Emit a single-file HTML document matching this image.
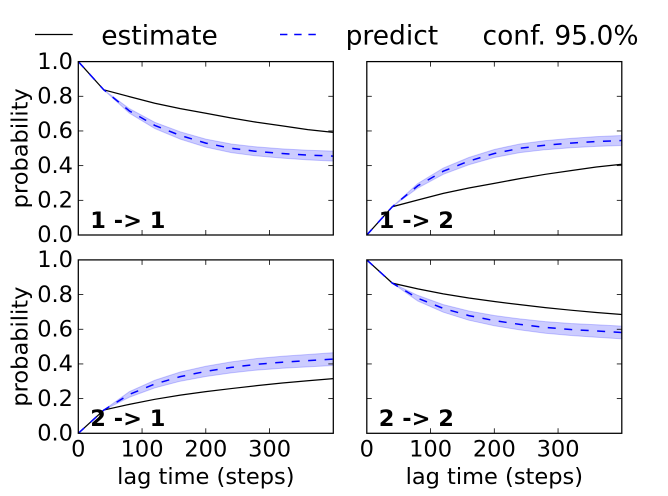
<!DOCTYPE html>
<html><head><meta charset="utf-8"><style>
html,body{margin:0;padding:0;background:#fff;}
svg{display:block;}
text{font-family:"DejaVu Sans","Liberation Sans",sans-serif;fill:#000;}
.t{font-size:22.5px;}
.lg{font-size:26.5px;}
.pl{font-size:22.5px;font-weight:bold;}
.band{fill:rgba(0,0,255,0.2);stroke:rgba(0,0,255,0.2);stroke-width:1;}
.est{fill:none;stroke:#000;stroke-width:1.25;}
.pred{fill:none;stroke:#0000ff;stroke-width:1.5;stroke-dasharray:8 8.5;}
.sp{fill:none;stroke:#000;stroke-width:1.25;}
.tk{stroke:#000;stroke-width:0.8;}
</style></head><body>
<svg width="668" height="496" viewBox="0 0 668 496" xmlns="http://www.w3.org/2000/svg">
<rect x="0" y="0" width="668" height="496" fill="#fff"/>

<!-- Legend -->
<line x1="35" y1="34.5" x2="72.7" y2="34.5" stroke="#000" stroke-width="1.25"/>
<text class="lg" x="101.2" y="44.3">estimate</text>
<line x1="280" y1="34.5" x2="317" y2="34.5" stroke="#0000ff" stroke-width="1.5" stroke-dasharray="7.4 6.8"/>
<text class="lg" x="345.6" y="44.3">predict</text>
<text class="lg" x="482.5" y="44.3">conf. 95.0%</text>

<!-- Top-left 1->1 -->
<polygon class="band" points="78.3,61.6 103.8,89.86 129.3,108.60 154.8,122.29 180.3,131.83 205.8,139.11 231.3,143.96 256.8,146.91 282.3,148.82 307.8,150.20 333.3,151.07 333.3,161.13 307.8,159.92 282.3,158.18 256.8,155.93 231.3,152.64 205.8,147.09 180.3,139.11 154.8,128.53 129.3,113.10 103.8,89.86"/>
<polyline class="est" points="78.3,61.6 103.8,89.86 129.3,96.63 154.8,103.22 180.3,108.59 205.8,113.27 231.3,117.95 256.8,122.29 282.3,125.93 307.8,129.57 333.3,132.35"/>
<polyline class="pred" points="78.3,61.6 103.8,89.86 129.3,110.85 154.8,125.41 180.3,135.47 205.8,143.10 231.3,148.30 256.8,151.42 282.3,153.50 307.8,155.06 333.3,156.10"/>

<!-- Top-right 1->2 -->
<polygon class="band" points="366.8,235 392.3,206.74 417.8,183.50 443.3,168.07 468.8,157.49 494.3,149.51 519.8,143.96 545.3,140.67 570.8,138.42 596.3,136.68 621.8,135.47 621.8,145.53 596.3,146.40 570.8,147.78 545.3,149.69 519.8,152.64 494.3,157.49 468.8,164.77 443.3,174.31 417.8,188.00 392.3,206.74"/>
<polyline class="est" points="366.8,235 392.3,206.74 417.8,199.97 443.3,193.38 468.8,188.01 494.3,183.33 519.8,178.65 545.3,174.31 570.8,170.67 596.3,167.03 621.8,164.25"/>
<polyline class="pred" points="366.8,235 392.3,206.74 417.8,185.75 443.3,171.19 468.8,161.13 494.3,153.50 519.8,148.30 545.3,145.18 570.8,143.10 596.3,141.54 621.8,140.50"/>

<!-- Bottom-left 2->1 -->
<polygon class="band" points="78.3,433.3 103.8,410.06 129.3,391.66 154.8,380.25 180.3,372.0 205.8,366.3 231.3,361.9 256.8,358.5 282.3,356.2 307.8,354.45 333.3,352.7 333.3,365.5 307.8,366.85 282.3,368.2 256.8,370.1 231.3,372.9 205.8,376.5 180.3,381.2 154.8,387.85 129.3,397.26 103.8,410.06"/>
<polyline class="est" points="78.3,433.3 103.8,410.06 129.3,404.34 154.8,399.31 180.3,395.15 205.8,391.68 231.3,388.56 256.8,385.62 282.3,383.01 307.8,380.76 333.3,378.68"/>
<polyline class="pred" points="78.3,433.3 103.8,410.06 129.3,394.46 154.8,384.05 180.3,376.60 205.8,371.40 231.3,367.41 256.8,364.29 282.3,362.21 307.8,360.65 333.3,359.08"/>

<!-- Bottom-right 2->2 -->
<polygon class="band" points="366.8,259.9 392.3,283.14 417.8,295.4 443.3,304.6 468.8,311.0 494.3,315.5 519.8,318.9 545.3,321.6 570.8,323.5 596.3,324.8 621.8,326.1 621.8,338.9 596.3,337.2 570.8,335.5 545.3,333.2 519.8,329.9 494.3,325.7 468.8,320.2 443.3,312.2 417.8,301.0 392.3,283.14"/>
<polyline class="est" points="366.8,259.9 392.3,283.14 417.8,288.86 443.3,293.89 468.8,298.05 494.3,301.52 519.8,304.64 545.3,307.58 570.8,310.19 596.3,312.44 621.8,314.52"/>
<polyline class="pred" points="366.8,259.9 392.3,283.14 417.8,298.2 443.3,308.4 468.8,315.6 494.3,320.6 519.8,324.4 545.3,327.4 570.8,329.5 596.3,331.0 621.8,332.5"/>

<!-- Spines -->
<rect class="sp" x="78.3" y="61.6" width="255" height="173.4"/>
<rect class="sp" x="366.8" y="61.6" width="255" height="173.4"/>
<rect class="sp" x="78.3" y="259.9" width="255" height="173.4"/>
<rect class="sp" x="366.8" y="259.9" width="255" height="173.4"/>

<!-- Ticks top-left -->
<g class="tk">
<line x1="78.3" y1="200.32" x2="83.3" y2="200.32"/><line x1="78.3" y1="165.64" x2="83.3" y2="165.64"/><line x1="78.3" y1="130.96" x2="83.3" y2="130.96"/><line x1="78.3" y1="96.28" x2="83.3" y2="96.28"/>
<line x1="333.3" y1="200.32" x2="328.3" y2="200.32"/><line x1="333.3" y1="165.64" x2="328.3" y2="165.64"/><line x1="333.3" y1="130.96" x2="328.3" y2="130.96"/><line x1="333.3" y1="96.28" x2="328.3" y2="96.28"/>
<line x1="142.05" y1="235" x2="142.05" y2="230"/><line x1="205.8" y1="235" x2="205.8" y2="230"/><line x1="269.55" y1="235" x2="269.55" y2="230"/>
<line x1="142.05" y1="61.6" x2="142.05" y2="66.6"/><line x1="205.8" y1="61.6" x2="205.8" y2="66.6"/><line x1="269.55" y1="61.6" x2="269.55" y2="66.6"/>
</g>
<!-- Ticks top-right -->
<g class="tk">
<line x1="366.8" y1="200.32" x2="371.8" y2="200.32"/><line x1="366.8" y1="165.64" x2="371.8" y2="165.64"/><line x1="366.8" y1="130.96" x2="371.8" y2="130.96"/><line x1="366.8" y1="96.28" x2="371.8" y2="96.28"/>
<line x1="621.8" y1="200.32" x2="616.8" y2="200.32"/><line x1="621.8" y1="165.64" x2="616.8" y2="165.64"/><line x1="621.8" y1="130.96" x2="616.8" y2="130.96"/><line x1="621.8" y1="96.28" x2="616.8" y2="96.28"/>
<line x1="430.55" y1="235" x2="430.55" y2="230"/><line x1="494.3" y1="235" x2="494.3" y2="230"/><line x1="558.05" y1="235" x2="558.05" y2="230"/>
<line x1="430.55" y1="61.6" x2="430.55" y2="66.6"/><line x1="494.3" y1="61.6" x2="494.3" y2="66.6"/><line x1="558.05" y1="61.6" x2="558.05" y2="66.6"/>
</g>
<!-- Ticks bottom-left -->
<g class="tk">
<line x1="78.3" y1="398.62" x2="83.3" y2="398.62"/><line x1="78.3" y1="363.94" x2="83.3" y2="363.94"/><line x1="78.3" y1="329.26" x2="83.3" y2="329.26"/><line x1="78.3" y1="294.58" x2="83.3" y2="294.58"/>
<line x1="333.3" y1="398.62" x2="328.3" y2="398.62"/><line x1="333.3" y1="363.94" x2="328.3" y2="363.94"/><line x1="333.3" y1="329.26" x2="328.3" y2="329.26"/><line x1="333.3" y1="294.58" x2="328.3" y2="294.58"/>
<line x1="142.05" y1="433.3" x2="142.05" y2="428.3"/><line x1="205.8" y1="433.3" x2="205.8" y2="428.3"/><line x1="269.55" y1="433.3" x2="269.55" y2="428.3"/>
<line x1="142.05" y1="259.9" x2="142.05" y2="264.9"/><line x1="205.8" y1="259.9" x2="205.8" y2="264.9"/><line x1="269.55" y1="259.9" x2="269.55" y2="264.9"/>
</g>
<!-- Ticks bottom-right -->
<g class="tk">
<line x1="366.8" y1="398.62" x2="371.8" y2="398.62"/><line x1="366.8" y1="363.94" x2="371.8" y2="363.94"/><line x1="366.8" y1="329.26" x2="371.8" y2="329.26"/><line x1="366.8" y1="294.58" x2="371.8" y2="294.58"/>
<line x1="621.8" y1="398.62" x2="616.8" y2="398.62"/><line x1="621.8" y1="363.94" x2="616.8" y2="363.94"/><line x1="621.8" y1="329.26" x2="616.8" y2="329.26"/><line x1="621.8" y1="294.58" x2="616.8" y2="294.58"/>
<line x1="430.55" y1="433.3" x2="430.55" y2="428.3"/><line x1="494.3" y1="433.3" x2="494.3" y2="428.3"/><line x1="558.05" y1="433.3" x2="558.05" y2="428.3"/>
<line x1="430.55" y1="259.9" x2="430.55" y2="264.9"/><line x1="494.3" y1="259.9" x2="494.3" y2="264.9"/><line x1="558.05" y1="259.9" x2="558.05" y2="264.9"/>
</g>

<!-- Y tick labels top-left -->
<g class="t" text-anchor="end">
<text x="73" y="242.2">0.0</text>
<text x="73" y="207.5">0.2</text>
<text x="73" y="172.8">0.4</text>
<text x="73" y="138.2">0.6</text>
<text x="73" y="103.5">0.8</text>
<text x="73" y="68.8">1.0</text>
</g>
<!-- Y tick labels bottom-left -->
<g class="t" text-anchor="end">
<text x="73" y="440.5">0.0</text>
<text x="73" y="405.8">0.2</text>
<text x="73" y="371.1">0.4</text>
<text x="73" y="336.5">0.6</text>
<text x="73" y="301.8">0.8</text>
<text x="73" y="267.1">1.0</text>
</g>
<!-- X tick labels -->
<g class="t" text-anchor="middle">
<text x="78.3" y="456.7">0</text>
<text x="142.05" y="456.7">100</text>
<text x="205.8" y="456.7">200</text>
<text x="269.55" y="456.7">300</text>
<text x="366.8" y="456.7">0</text>
<text x="430.55" y="456.7">100</text>
<text x="494.3" y="456.7">200</text>
<text x="558.05" y="456.7">300</text>
</g>
<!-- Axis labels -->
<text class="t" x="205.8" y="484" text-anchor="middle">lag time (steps)</text>
<text class="t" x="494.3" y="484" text-anchor="middle">lag time (steps)</text>
<text class="t" text-anchor="middle" transform="translate(27.5,148.3) rotate(-90)">probability</text>
<text class="t" text-anchor="middle" transform="translate(27.5,346.6) rotate(-90)">probability</text>

<!-- Panel labels -->
<text class="pl" x="90.3" y="228">1 -&gt; 1</text>
<text class="pl" x="378.8" y="228">1 -&gt; 2</text>
<text class="pl" x="90.3" y="426">2 -&gt; 1</text>
<text class="pl" x="378.8" y="426">2 -&gt; 2</text>
</svg>
</body></html>
